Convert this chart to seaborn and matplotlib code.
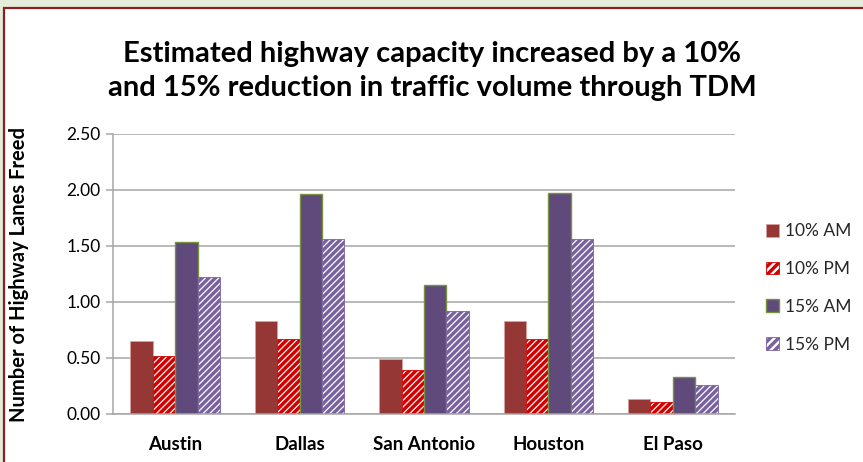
import matplotlib
matplotlib.use("Agg")
import matplotlib.pyplot as plt
from matplotlib.patches import Rectangle, Patch
import seaborn as sns
import pandas as pd

cities = ["Austin", "Dallas", "San Antonio", "Houston", "El Paso"]
scenarios = ["10% AM", "10% PM", "15% AM", "15% PM"]
am_10 = [0.65, 0.83, 0.49, 0.83, 0.13]
pm_10 = [0.52, 0.67, 0.39, 0.67, 0.11]
am_15 = [1.54, 1.96, 1.15, 1.97, 0.33]
pm_15 = [1.22, 1.56, 0.92, 1.56, 0.26]
y_ticks = [0.0, 0.5, 1.0, 1.5, 2.0, 2.5]

rows = []
for name, vals in zip(scenarios, [am_10, pm_10, am_15, pm_15]):
    for c, v in zip(cities, vals):
        rows.append({"City": c, "Scenario": name, "Lanes": v})
df = pd.DataFrame(rows)

sns.set_theme(style="white")
plt.rcParams["font.family"] = ["Lato", "DejaVu Sans"]
plt.rcParams["hatch.linewidth"] = 2.5

fig = plt.figure(figsize=(8.63, 4.62), dpi=100)
fig.patch.set_facecolor("#e4eddb")
# white chart frame behind the axes
fig.patches.append(Rectangle((4 / 863, -0.05), 1.1, 1 - 8 / 462 + 0.05,
                             transform=fig.transFigure, facecolor="white",
                             edgecolor="#8b2020", linewidth=1.6, zorder=-10))

ax = fig.add_axes([113 / 863, 1 - 414 / 462, (735 - 113) / 863, (414 - 134) / 462])
ax.set_facecolor("white")

sns.barplot(data=df, x="City", y="Lanes", hue="Scenario", order=cities,
            hue_order=scenarios, width=0.72, ax=ax, legend=False,
            saturation=1, errorbar=None)

styles = [
    dict(facecolor="#953735", edgecolor="#d9a0a0", hatch=None, lw=0.6),
    dict(facecolor="white", edgecolor="#d40000", hatch="/////", lw=0.6),
    dict(facecolor="#604a7b", edgecolor="#77933c", hatch=None, lw=1.0),
    dict(facecolor="white", edgecolor="#7a62a0", hatch="/////", lw=0.6),
]
handles = []
for cont, st in zip(ax.containers, styles):
    for bar in cont:
        bar.set_facecolor(st["facecolor"])
        bar.set_edgecolor(st["edgecolor"])
        bar.set_linewidth(st["lw"])
        if st["hatch"]:
            bar.set_hatch(st["hatch"])
    handles.append(Patch(facecolor=st["facecolor"], edgecolor=st["edgecolor"],
                         hatch="////" if st["hatch"] else None,
                         linewidth=st["lw"]))

ax.set_ylim(0, 2.5)
ax.set_yticks(y_ticks)
ax.set_yticklabels([f"{t:.2f}" for t in y_ticks], fontsize=12.5)
ax.set_xlim(-0.5, len(cities) - 0.5)
ax.grid(axis="y", color="#a6a6a6", linewidth=1.1)
ax.set_axisbelow(True)
for s in ["top", "right"]:
    ax.spines[s].set_visible(False)
for s in ["left", "bottom"]:
    ax.spines[s].set_color("#a6a6a6")
    ax.spines[s].set_linewidth(1.1)
ax.tick_params(axis="y", which="both", left=True, length=5, color="#a6a6a6",
               width=1.1, pad=4, labelcolor="black")
ax.tick_params(axis="x", bottom=False, pad=10)
for lab in ax.get_xticklabels():
    lab.set_fontweight("bold")
    lab.set_fontsize(13.5)
    lab.set_color("black")
ax.set_xlabel("")
ax.set_ylabel("Number of Highway Lanes Freed", fontsize=14.5, fontweight="bold",
              labelpad=27, color="black")

fig.text(432 / 863, 1 - 71 / 462,
         "Estimated highway capacity increased by a 10%\nand 15% reduction in traffic volume through TDM",
         ha="center", va="center", fontsize=21, fontweight="bold",
         linespacing=1.42, color="black")

fig.legend(handles, scenarios, loc="center left",
           bbox_to_anchor=(750 / 863, 1 - 288 / 462), frameon=False,
           fontsize=12.5, handlelength=0.75, handleheight=0.75,
           handletextpad=0.35, labelspacing=1.25)

fig.savefig("out.png", dpi=100, facecolor=fig.get_facecolor())
